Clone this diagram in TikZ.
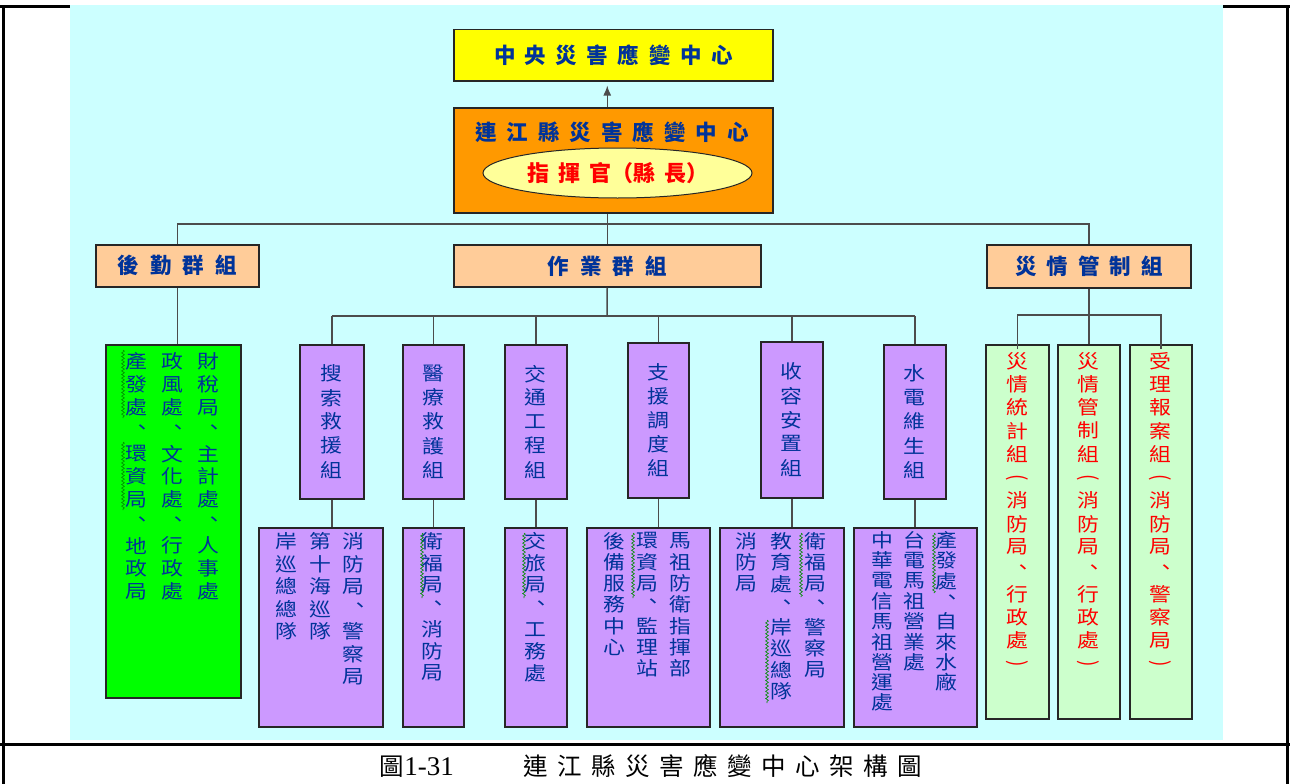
\documentclass[tikz,border=0pt]{standalone}
\usepackage{fontspec}
\usepackage{graphicx}
\usepackage{tikz}
\usetikzlibrary{calc}
\usetikzlibrary{arrows.meta}
\usetikzlibrary{positioning}
\usetikzlibrary{shapes.geometric}
\usetikzlibrary{decorations.pathmorphing}
\newfontfamily\cjk{Noto Sans CJK TC}
\newfontfamily\capfont{Liberation Serif}
\definecolor{paleaqua}{RGB}{204, 255, 255}
\definecolor{lemon}{RGB}{255, 255, 0}
\definecolor{tangerine}{RGB}{255, 153, 0}
\definecolor{cream}{RGB}{255, 255, 153}
\definecolor{peach}{RGB}{255, 204, 153}
\definecolor{neon}{RGB}{0, 255, 0}
\definecolor{lavender}{RGB}{204, 153, 255}
\definecolor{mint}{RGB}{204, 255, 204}
\definecolor{navyblue}{RGB}{0, 51, 153}
\newlength\chpitch \setlength\chpitch{23pt}
\newlength\chsep \setlength\chsep{10pt}
\def\vcolend{\vcolend}
\def\vcol#1{\vtop{\offinterlineskip\vcolx#1\vcolend}}
\def\vcolx#1{\ifx\vcolend#1\else\hbox to 1.15em{\hss\vbox to\chpitch{\vss\hbox{\scalebox{1.15}[1]{#1}}\vss}\hss}\expandafter\vcolx\fi}
\def\spcend{\spcend}
\def\spc#1{\spcx#1\spcend}
\def\spcx#1{\ifx\spcend#1\unskip\else#1\hskip\chsep\expandafter\spcx\fi}
\def\vlp{\rotatebox{-90}{(}}
\def\vrp{\rotatebox{-90}{)}}
\def\vcm{\makebox[1em][l]{\hspace*{0.28em}\raisebox{0.12em}{\makebox[0.72em][l]{、}}}}
\tikzset{
    box/.style={draw=black!85, line width=1.5pt, inner sep=0pt, anchor=north west},
    hdr/.style={text=navyblue, font=\cjk\bfseries\fontsize{21.5}{25}\selectfont},
    vtxt/.style={anchor=north, inner sep=0pt, text=navyblue, font=\cjk\fontsize{19}{23}\selectfont},
    charpitch/.code={\setlength\chpitch{#1}},
    link/.style={draw=black!70, line width=1.5pt},
    squig/.style={draw=green!55!black, line width=0.6pt, decorate,
        decoration={snake, amplitude=1.4pt, segment length=3.6pt}}
}
\begin{document}
\begin{tikzpicture}[x=1pt, y=-1pt]
    \useasboundingbox (0,0) rectangle (1290,784);
    \draw[line width=3pt] (0,7) -- (1290,7) (3,7) -- (3,784) (1287,7) -- (1287,784) (0,744) -- (1290,744);
    \fill[paleaqua] (70,5.5) rectangle (1223,740);

    \node[box, hdr, fill=lemon,     minimum width=319pt, minimum height=51pt]  (ncc)  at (453, 29) {\setlength\chsep{9.5pt}\spc{中央災害應變中心}};
    \node[box,      fill=tangerine, minimum width=319pt, minimum height=105pt] (lcc)  at (453,107) {};
    \node[hdr] (lcct) at (612,132) {\setlength\chsep{10pt}\spc{連江縣災害應變中心}};
    \node[ellipse, draw=black!85, line width=1pt, fill=cream, minimum width=269pt, minimum height=50pt,
          text=red, font=\cjk\bfseries\fontsize{22}{25}\selectfont] (chief) at (617.5,173)
          {指\hskip9pt 揮\hskip9pt 官（縣\hskip9pt 長）};

    \node[box, hdr, fill=peach, minimum width=163pt, minimum height=42pt] (logi) at ( 95,244) {\setlength\chsep{11pt}\spc{後勤群組}};
    \node[box, hdr, fill=peach, minimum width=307pt, minimum height=42pt] (ops)  at (453,244) {\setlength\chsep{11pt}\spc{作業群組}};
    \node[box, hdr, fill=peach, minimum width=204pt, minimum height=43pt] (ctl)  at (986,244) {\setlength\chsep{10pt}\spc{災情管制組}};

    \node[box, fill=neon, minimum width=135pt, minimum height=353pt] (grn) at (105,344) {};
    \node[vtxt, charpitch=23pt] (grnt) at (172.5,350)
        {\vcol{產發處\vcm 環資局\vcm 地政局}\hspace{14pt}\vcol{政風處\vcm 文化處\vcm 行政處}\hspace{14pt}\vcol{財稅局\vcm 主計處\vcm 人事處}};

    \node[box, fill=lavender, minimum width=64pt, minimum height=154pt] (s1) at (299,344) {};
    \node[box, fill=lavender, minimum width=61pt, minimum height=154pt] (s2) at (402,344) {};
    \node[box, fill=lavender, minimum width=62pt, minimum height=154pt] (s3) at (504,344) {};
    \node[box, fill=lavender, minimum width=61pt, minimum height=155pt] (s4) at (627,342) {};
    \node[box, fill=lavender, minimum width=62pt, minimum height=156pt] (s5) at (760,341) {};
    \node[box, fill=lavender, minimum width=62pt, minimum height=154pt] (s6) at (883,344) {};
    \node[vtxt, anchor=center, charpitch=24pt] (s1t) at (s1.center) {\vcol{搜索救援組}};
    \node[vtxt, anchor=center, charpitch=24pt] (s2t) at (s2.center) {\vcol{醫療救護組}};
    \node[vtxt, anchor=center, charpitch=24pt] (s3t) at (s3.center) {\vcol{交通工程組}};
    \node[vtxt, anchor=center, charpitch=24pt] (s4t) at (s4.center) {\vcol{支援調度組}};
    \node[vtxt, anchor=center, charpitch=24pt] (s5t) at (s5.center) {\vcol{收容安置組}};
    \node[vtxt, anchor=center, charpitch=24pt] (s6t) at (s6.center) {\vcol{水電維生組}};

    \node[box, fill=lavender, minimum width=124pt, minimum height=199pt] (d1) at (258,527) {};
    \node[box, fill=lavender, minimum width=61pt,  minimum height=199pt] (d2) at (402,527) {};
    \node[box, fill=lavender, minimum width=62pt,  minimum height=199pt] (d3) at (504,527) {};
    \node[box, fill=lavender, minimum width=123pt, minimum height=199pt] (d4) at (586,527) {};
    \node[box, fill=lavender, minimum width=124pt, minimum height=199pt] (d5) at (719,527) {};
    \node[box, fill=lavender, minimum width=123pt, minimum height=199pt] (d6) at (853,527) {};
    \node[vtxt, charpitch=22.5pt] (d1t) at (320,530) {\vcol{岸巡總總隊}\hspace{12pt}\vcol{第十海巡隊}\hspace{12pt}\vcol{消防局\vcm 警察局}};
    \node[vtxt, charpitch=22pt]   (d2t) at (432.5,530) {\vcol{衛福局\vcm 消防局}};
    \node[vtxt, charpitch=22pt]   (d3t) at (535,530) {\vcol{交旅局\vcm 工務處}};
    \node[vtxt, charpitch=21.3pt] (d4t) at (647.5,530) {\vcol{後備服務中心}\hspace{11pt}\vcol{環資局\vcm 監理站}\hspace{11pt}\vcol{馬祖防衛指揮部}};
    \node[vtxt, charpitch=21.5pt] (d5t) at (781,530) {\vcol{消防局}\hspace{12.5pt}\vcol{教育處\vcm 岸巡總隊}\hspace{12.5pt}\vcol{衛福局\vcm 警察局}};
    \node[vtxt, charpitch=20.3pt] (d6t) at (914.5,530) {\vcol{中華電信馬祖營運處}\hspace{10pt}\vcol{台電馬祖營業處}\hspace{10pt}\vcol{產發處\vcm 自來水廠}};

    \node[box, fill=mint, minimum width=63pt, minimum height=374pt] (r1) at ( 985,344) {};
    \node[box, fill=mint, minimum width=62pt, minimum height=374pt] (r2) at (1057,344) {};
    \node[box, fill=mint, minimum width=62pt, minimum height=374pt] (r3) at (1129,344) {};
    \node[vtxt, text=red, charpitch=23.3pt] (r1t) at (r1.north |- 0,349) {\vcol{災情統計組\vlp 消防局\vcm 行政處\vrp}};
    \node[vtxt, text=red, charpitch=23.3pt] (r2t) at (r2.north |- 0,349) {\vcol{災情管制組\vlp 消防局\vcm 行政處\vrp}};
    \node[vtxt, text=red, charpitch=23.3pt] (r3t) at (r3.north |- 0,349) {\vcol{受理報案組\vlp 消防局\vcm 警察局\vrp}};

    \draw[link, -{Latex[length=10pt, width=8pt]}, shorten >=4pt] (ops.north |- lcc.north) -- (ops.north |- ncc.south);
    \coordinate (bus1) at (607,224);
    \coordinate (bus2) at (607,316);
    \coordinate (bus3) at (1088,315);
    \draw[link] (ops.north |- lcc.south) -- (ops.north);
    \draw[link] (logi.north) -- (logi.north |- bus1) -- (ctl.north |- bus1) -- (ctl.north);
    \draw[link] (logi.south) -- (logi.south |- grn.north);
    \draw[link] (ops.south) -- (bus2);
    \draw[link] (s1.north |- bus2) -- (s6.north |- bus2);
    \foreach \n in {s1,s2,s3,s4,s5,s6}
        \draw[link] (\n.north |- bus2) -- (\n.north);
    \foreach \n/\m in {s1/d1,s2/d2,s3/d3,s4/d4,s5/d5,s6/d6}
        \draw[link] (\n.south) -- (\n.south |- \m.north);
    \draw[link] (ctl.south) -- (ctl.south |- r2.north);
    \draw[link] ([yshift=-5pt]r1.north) -- (r1.north |- bus3) -- (r3.north |- bus3) -- ([yshift=-5pt]r3.north);

    \draw[squig] (123,350) -- (123,418);
    \draw[squig] (123,442) -- (123,510);
    \draw[squig] (422,533) -- (422,598);
    \draw[squig] (524,533) -- (524,598);
    \draw[squig] (633,533) -- (633,598);
    \draw[squig] (801,533) -- (801,597);
    \draw[squig] (767,620) -- (767,703);
    \draw[squig] (934,533) -- (934,593);

    \node[font=\cjk\fontsize{24.5}{28}\selectfont] (cap) at (651,766)
        {圖{\capfont\fontsize{27}{30}\selectfont 1-31}\hspace{70pt}\setlength\chsep{9.5pt}\spc{連江縣災害應變中心架構圖}};
\end{tikzpicture}
\end{document}
